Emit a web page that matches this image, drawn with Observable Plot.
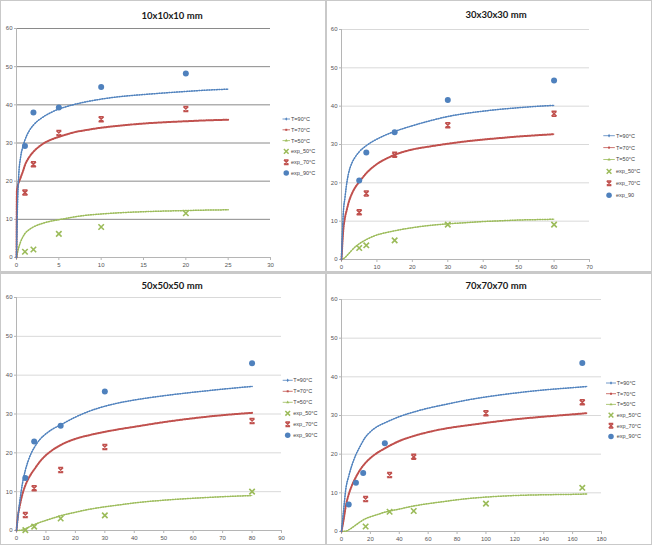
<!DOCTYPE html>
<html>
<head>
<meta charset="utf-8">
<script src="https://cdn.jsdelivr.net/npm/d3@7"></script>
<script src="https://cdn.jsdelivr.net/npm/@observablehq/plot@0.6"></script>
<style>
  body { margin: 0; background: #fff; }
  #sheet { position: relative; width: 652px; height: 545px; overflow: hidden; background: #fff;
           font-family: "Liberation Sans", Arial, sans-serif; }
  .panel { position: absolute; }
  .panel svg { overflow: visible; }
  .title { position: absolute; transform: translate(-50%, -50%); white-space: nowrap;
           font-family: Lato, "Open Sans", sans-serif; font-weight: bold; font-size: 9.5px; color: #1a1a1a; }
  .rule { position: absolute; background: #c9c9c9; }
</style>
</head>
<body>
<div id="sheet"></div>
<script>
// ---- chart text ----
const titles = ["10x10x10 mm", "30x30x30 mm", "50x50x50 mm", "70x70x70 mm"];
const labelsStd = ["T=90°C", "T=70°C", "T=50°C", "exp_50°C", "exp_70°C", "exp_90°C"];
const labels30 = ["T=90°C", "T=70°C", "T=50°C", "exp_50°C", "exp_70°C", "exp_90"];

// ---- axis ticks ----
const yTicks = [0, 10, 20, 30, 40, 50, 60];
const yGrid = [10, 20, 30, 40, 50, 60];
const xTicks10 = [0, 5, 10, 15, 20, 25, 30];
const xTicks30 = [0, 10, 20, 30, 40, 50, 60, 70];
const xTicks50 = [0, 10, 20, 30, 40, 50, 60, 70, 80, 90];
const xTicks70 = [0, 20, 40, 60, 80, 100, 120, 140, 160, 180];

// ---- model curves [time, value] ----
const fit10_T90 = [[0,0],[0.1,12],[0.25,21],[0.5,26.5],[0.75,29],[1,30.8],[1.5,33.2],[2,34.7],[3,36.6],[4,37.9],[5,38.9],[6,39.6],[7,40.2],[8,40.7],[10,41.5],[12,42.1],[15,42.7],[18,43.2],[20,43.5],[22,43.8],[25,44.1]];
const fit10_T70 = [[0,0],[0.05,17.5],[0.5,21],[0.75,22.5],[1,24.2],[1.5,26.3],[2,27.7],[3,29.6],[4,30.8],[5,31.6],[6,32.3],[7,32.9],[8,33.3],[10,34],[12,34.5],[15,35.1],[18,35.5],[20,35.7],[22,35.9],[25,36.1]];
const fit10_T50 = [[0,0],[0.25,2.5],[0.5,4.2],[0.75,5.4],[1,6.3],[1.5,7.3],[2,8],[3,8.9],[4,9.5],[5,9.9],[6,10.3],[7,10.7],[8,11],[10,11.4],[12,11.7],[15,12],[18,12.2],[20,12.3],[22,12.4],[25,12.5]];

const fit30_T90 = [[0,0],[0.5,12],[1,16.3],[1.5,20],[2,22.5],[3,25.3],[4,26.9],[5,28.1],[7,29.7],[10,31.4],[12,32.3],[15,33.4],[20,34.9],[25,36.2],[30,37.3],[35,38.1],[40,38.7],[45,39.2],[50,39.6],[55,39.95],[60,40.2]];
const fit30_T70 = [[0,0],[0.5,7.6],[1,11],[1.5,13],[2,14.8],[3,17.3],[4,19],[5,20.2],[7,22.5],[10,24.9],[12,26],[15,27.3],[20,28.7],[25,29.5],[30,30.2],[35,30.8],[40,31.3],[45,31.7],[50,32.1],[55,32.4],[60,32.7]];
const fit30_T50 = [[0,0],[1,0.5],[2,1.5],[3,2.5],[4,3.4],[5,4.1],[7,5.2],[10,6.4],[12,6.9],[15,7.5],[20,8.3],[25,8.9],[30,9.3],[35,9.6],[40,9.9],[45,10.1],[50,10.3],[55,10.4],[60,10.5]];

const fit50_T90 = [[0,0],[1,6.8],[2,12],[3,15.5],[4,18],[5,19.9],[6,21.3],[8,23.5],[10,24.9],[12,26],[15,27.2],[20,29.2],[25,30.8],[30,32],[35,32.9],[40,33.6],[50,34.7],[60,35.6],[70,36.4],[80,37.1]];
const fit50_T70 = [[0,0],[0.5,3.8],[1,5.9],[2,9.3],[3,11.6],[4,13.3],[5,14.6],[6,15.7],[8,17.8],[10,19.4],[12,20.6],[15,22],[20,23.6],[25,24.6],[30,25.4],[35,26.1],[40,26.7],[50,27.9],[60,28.9],[70,29.7],[80,30.3]];
const fit50_T50 = [[0,0],[2,0.1],[3,0.4],[4,0.8],[6,1.5],[8,2.1],[10,2.6],[12,3.1],[15,3.8],[20,4.7],[25,5.5],[30,6.1],[35,6.6],[40,7.1],[50,7.8],[60,8.3],[70,8.7],[80,9.0]];

const fit70_T90 = [[0,0],[1.5,5.7],[3,11],[5,14.3],[7,16.9],[10,19.9],[13,22.1],[16,24.1],[20,25.8],[25,27.2],[30,28.1],[40,29.7],[50,30.9],[60,31.9],[70,32.7],[80,33.5],[90,34.2],[100,34.8],[120,35.8],[140,36.6],[160,37.2],[170,37.5]];
const fit70_T70 = [[0,0],[1.5,3.1],[3,6.6],[5,9.6],[7,11.7],[10,14.1],[13,16],[16,17.5],[20,19],[25,20.4],[30,21.5],[40,23.4],[50,24.7],[60,25.7],[70,26.5],[80,27.1],[90,27.6],[100,28.1],[120,29],[140,29.7],[160,30.3],[170,30.6]];
const fit70_T50 = [[0,0],[3,0.1],[5,0.4],[7,0.9],[10,1.7],[13,2.5],[16,3.2],[20,3.8],[25,4.4],[30,5],[40,5.8],[50,6.6],[60,7.2],[70,7.7],[80,8.2],[90,8.6],[100,8.9],[120,9.3],[140,9.5],[160,9.6],[170,9.7]];

// ---- measurements ----
const exp10_t = [1, 2, 5, 10, 20];
const exp10_50 = [1.5, 2.1, 6.2, 8.0, 11.6];
const exp10_70 = [17.0, 24.4, 32.6, 36.2, 38.9];
const exp10_90 = [29.2, 38.0, 39.3, 44.7, 48.2];

const exp30_t = [5, 7, 15, 30, 60];
const exp30_50 = [3.0, 3.7, 5.0, 9.1, 9.1];
const exp30_70 = [12.3, 17.2, 27.3, 35.0, 38.0];
const exp30_90 = [20.6, 27.9, 33.2, 41.6, 46.7];

const exp50_t = [3, 6, 15, 30, 80];
const exp50_50 = [0.1, 1.0, 3.1, 3.9, 10.0];
const exp50_70 = [4.0, 10.9, 15.6, 21.5, 28.2];
const exp50_90 = [13.5, 22.9, 27.0, 35.8, 43.1];

const exp70_t = [16.7, 33.3, 50, 100, 166.7];
const exp70_50 = [1.3, 5.1, 5.3, 7.2, 11.3];
const exp70_70 = [8.4, 14.6, 19.3, 30.6, 33.4];
const exp70_t90 = [5, 10, 15, 30, 166.7];
const exp70_90 = [7.0, 12.6, 15.1, 22.8, 43.6];

// ---- styling ----
const BLUE = "#4f81bd", RED = "#c0504d", GREEN = "#9bbb59";
const AXIS = "#b5b5b5";

// X with bars top and bottom (hourglass star marker)
const hourglass = {
  draw(ctx, size) {
    const s = Math.sqrt(size / Math.PI);
    ctx.moveTo(-s, -s); ctx.lineTo(s, s);
    ctx.moveTo(s, -s); ctx.lineTo(-s, s);
    ctx.moveTo(-s, -s); ctx.lineTo(s, -s);
    ctx.moveTo(-s, s); ctx.lineTo(s, s);
  }
};

// layout of the four panels (page pixels)
const layout = [
  {left: 0,   top: 0,   ml: 16, mr: 55, mt: 28, mb: 15, xMax: 30,  grid: "#8a8a8a", tx: 172, ty: 15,
   lg: {x: 282.5, w: 7.5, tx: 291, y0: 119, dy: 10.8}},
  {left: 327, top: 0,   ml: 14, mr: 63, mt: 29, mb: 13, xMax: 70,  grid: "#d9d9d9", tx: 496, ty: 14,
   lg: {x: 276.3, w: 11.5, tx: 289, y0: 135.7, dy: 11.9}},
  {left: 0,   top: 273, ml: 16, mr: 44, mt: 24, mb: 15, xMax: 90,  grid: "#d9d9d9", tx: 172, ty: 285,
   lg: {x: 282.7, w: 10, tx: 293.3, y0: 107.3, dy: 11}},
  {left: 327, top: 273, ml: 14, mr: 51, mt: 26, mb: 14, xMax: 180, grid: "#d9d9d9", tx: 496, ty: 285,
   lg: {x: 279, w: 10, tx: 289.7, y0: 110, dy: 10.7}}
];

const panels = [
  {fits: [fit10_T90, fit10_T70, fit10_T50], t: exp10_t, t90: exp10_t, e50: exp10_50, e70: exp10_70, e90: exp10_90, ticks: xTicks10, labels: labelsStd},
  {fits: [fit30_T90, fit30_T70, fit30_T50], t: exp30_t, t90: exp30_t, e50: exp30_50, e70: exp30_70, e90: exp30_90, ticks: xTicks30, labels: labels30},
  {fits: [fit50_T90, fit50_T70, fit50_T50], t: exp50_t, t90: exp50_t, e50: exp50_50, e70: exp50_70, e90: exp50_90, ticks: xTicks50, labels: labelsStd},
  {fits: [fit70_T90, fit70_T70, fit70_T50], t: exp70_t, t90: exp70_t90, e50: exp70_50, e70: exp70_70, e90: exp70_90, ticks: xTicks70, labels: labelsStd}
];

// model curves: a hairline plus a row of small markers along it
const lineStyles = [
  {color: BLUE,  dotW: 1.5, dash: "0.9,1.6"},
  {color: RED,   dotW: 2.0, dash: "1.2,1.3"},
  {color: GREEN, dotW: 1.5, dash: "0.9,1.6"}
];

const sheet = document.getElementById("sheet");

function fitLine(data, st) {
  return [
    Plot.line(data, {x: d => d[0], y: d => d[1], stroke: st.color, strokeWidth: 0.6, curve: "monotone-x"}),
    Plot.line(data, {x: d => d[0], y: d => d[1], stroke: st.color, strokeWidth: st.dotW,
                     strokeDasharray: st.dash, curve: "monotone-x"})
  ];
}

panels.forEach((p, k) => {
  const L = layout[k];
  const plot = Plot.plot({
    width: 325, height: 272,
    marginLeft: L.ml, marginRight: L.mr, marginTop: L.mt, marginBottom: L.mb,
    style: {background: "transparent", fontFamily: "'Liberation Sans', Arial, sans-serif", fontSize: "6px", overflow: "visible"},
    x: {domain: [0, L.xMax], label: null},
    y: {domain: [0, 60], label: null},
    marks: [
      Plot.gridY(yGrid, {stroke: L.grid, strokeOpacity: 1, strokeWidth: 1}),
      Plot.ruleX([0], {stroke: AXIS}),
      Plot.ruleY([0], {stroke: AXIS}),
      Plot.axisX(p.ticks, {tickSize: 3, tickPadding: 2, stroke: AXIS, fill: "#555", fontSize: 6}),
      Plot.axisY(yTicks, {tickSize: 2, tickPadding: 2, stroke: AXIS, fill: "#555", fontSize: 6}),
      ...fitLine(p.fits[2], lineStyles[2]),
      ...fitLine(p.fits[1], lineStyles[1]),
      ...fitLine(p.fits[0], lineStyles[0]),
      Plot.dot(p.t, {x: d => d, y: (d, i) => p.e50[i], symbol: "times", r: 2.6, stroke: GREEN, strokeWidth: 1.6}),
      Plot.dot(p.t, {x: d => d, y: (d, i) => p.e70[i], symbol: hourglass, r: 2.5, stroke: RED, strokeWidth: 1.5, fill: "none"}),
      Plot.dot(p.t90, {x: d => d, y: (d, i) => p.e90[i], symbol: "circle", r: 3, fill: BLUE, stroke: "none"})
    ]
  });

  // legend entries drawn next to the plot frame
  const g = d3.select(plot).append("g")
    .attr("font-family", "'Liberation Sans', Arial, sans-serif")
    .attr("font-size", 5.5).attr("fill", "#444").attr("text-anchor", "start");
  const lg = L.lg;
  const swatch = [
    {color: BLUE, sym: d3.symbolDiamond, fill: true},
    {color: RED, sym: d3.symbolSquare, fill: true},
    {color: GREEN, sym: d3.symbolTriangle, fill: true},
    {color: GREEN, sym: d3.symbolTimes, fill: false, w: 1.5, size: 16},
    {color: RED, sym: hourglass, fill: false, w: 1.4, size: 16},
    {color: BLUE, sym: d3.symbolCircle, fill: true, size: 24}
  ];
  p.labels.forEach((lab, i) => {
    const y = lg.y0 + i * lg.dy;
    const cx = lg.x + lg.w / 2;
    const s = swatch[i];
    if (i < 3) {
      g.append("line").attr("x1", lg.x).attr("x2", lg.x + lg.w).attr("y1", y).attr("y2", y)
        .attr("stroke", s.color).attr("stroke-width", 0.8);
      g.append("path").attr("d", d3.symbol(s.sym, 4)()).attr("transform", `translate(${cx},${y})`)
        .attr("fill", s.color);
    } else {
      g.append("path").attr("d", d3.symbol(s.sym, s.size)()).attr("transform", `translate(${cx},${y})`)
        .attr("fill", s.fill ? s.color : "none").attr("stroke", s.fill ? "none" : s.color)
        .attr("stroke-width", s.w || 0);
    }
    g.append("text").attr("x", lg.tx).attr("y", y).attr("dy", "0.35em").text(lab);
  });

  const box = document.createElement("div");
  box.className = "panel";
  box.style.left = L.left + "px";
  box.style.top = L.top + "px";
  box.appendChild(plot);
  sheet.appendChild(box);

  const t = document.createElement("div");
  t.className = "title";
  t.style.left = L.tx + "px";
  t.style.top = L.ty + "px";
  t.textContent = titles[k];
  sheet.appendChild(t);
});

// panel dividers and outer frame
[
  {left: 324.5, top: 0, width: 2.5, height: 545},
  {left: 0, top: 271, width: 652, height: 2.5},
  {left: 0, top: 0, width: 652, height: 1},
  {left: 0, top: 544, width: 652, height: 1},
  {left: 0, top: 0, width: 1, height: 545},
  {left: 651, top: 0, width: 1, height: 545}
].forEach(r => {
  const d = document.createElement("div");
  d.className = "rule";
  Object.assign(d.style, {left: r.left + "px", top: r.top + "px", width: r.width + "px", height: r.height + "px"});
  sheet.appendChild(d);
});
</script>
</body>
</html>
